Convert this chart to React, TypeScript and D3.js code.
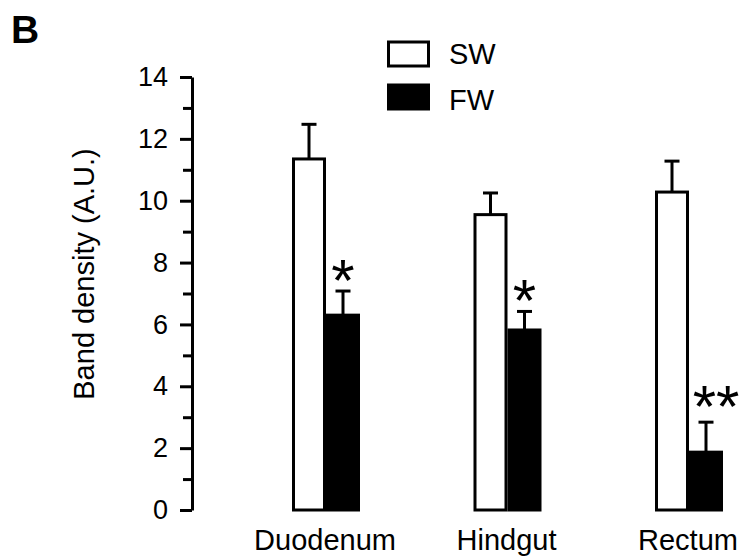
import React, { useEffect, useRef } from "react"
import * as d3 from "d3"

const categories = ["Duodenum", "Hindgut", "Rectum"]
const series = ["SW", "FW"]
const swMeans = [11.35, 9.55, 10.28]
const swErrors = [1.12, 0.7, 1.0]
const fwMeans = [6.3, 5.82, 1.87]
const fwErrors = [0.78, 0.6, 0.97]
const marks = ["*", "*", "**"]
const majorTicks = [0, 2, 4, 6, 8, 10, 12, 14]
const minorTicks = [1, 3, 5, 7, 9, 11, 13]

const font = "'Liberation Sans', Arial, Helvetica, sans-serif"

export default function App() {
    const ref = useRef<SVGSVGElement>(null)

    useEffect(() => {
        const svg = d3.select(ref.current)
        svg.selectAll("*").remove()

        const y = d3.scaleLinear().domain([0, 14]).range([510, 77])
        const x = d3.scalePoint().domain(categories).range([325, 688])
        const sub = d3.scaleBand().domain(series).range([-33, 35])

        const rows = categories.map((c, i) => [
            { cat: c, s: "SW", mean: swMeans[i], err: swErrors[i] },
            { cat: c, s: "FW", mean: fwMeans[i], err: fwErrors[i] },
        ]).flat()

        // error bars first, bars drawn over them
        const eb = svg.append("g").attr("stroke", "black").attr("stroke-width", 3)
        rows.forEach(d => {
            const cx = x(d.cat)! + sub(d.s)! + sub.bandwidth() / 2
            eb.append("line")
                .attr("x1", cx).attr("x2", cx)
                .attr("y1", y(d.mean)).attr("y2", y(d.mean + d.err))
            eb.append("line")
                .attr("x1", cx - 7.5).attr("x2", cx + 7.5)
                .attr("y1", y(d.mean + d.err)).attr("y2", y(d.mean + d.err))
        })

        svg.append("g").selectAll("rect").data(rows).enter().append("rect")
            .attr("x", d => x(d.cat)! + sub(d.s)! + 1.5)
            .attr("y", d => y(d.mean))
            .attr("width", sub.bandwidth() - 3)
            .attr("height", d => y(0) - y(d.mean))
            .attr("fill", d => d.s === "SW" ? "white" : "black")
            .attr("stroke", "black")
            .attr("stroke-width", 3)

        // significance marks
        svg.append("g").selectAll("text").data(categories).enter().append("text")
            .attr("x", (c, i) => x(c)! + sub("FW")! + sub.bandwidth() / 2 + (marks[i].length > 1 ? 10 : 0))
            .attr("y", (c, i) => y(fwMeans[i] + fwErrors[i]) + (marks[i].length > 1 ? 5 : 10))
            .attr("text-anchor", "middle")
            .attr("font-family", font)
            .attr("font-size", 60)
            .text((c, i) => marks[i])

        // y axis
        const yAxis = svg.append("g").attr("transform", "translate(192,0)")
        yAxis.call(d3.axisLeft(y).tickValues(majorTicks).tickSize(12).tickSizeOuter(0).tickPadding(12))
        yAxis.append("g").call(d3.axisLeft(y).tickValues(minorTicks).tickSize(9).tickFormat(() => ""))
            .select(".domain").remove()
        yAxis.selectAll("path, line").attr("stroke", "black").attr("stroke-width", 3)
        yAxis.selectAll("text").attr("font-family", font).attr("font-size", 27).attr("fill", "black")

        // category labels
        svg.append("g").selectAll("text").data(categories).enter().append("text")
            .attr("x", c => x(c)!)
            .attr("y", 550)
            .attr("text-anchor", "middle")
            .attr("font-family", font)
            .attr("font-size", 29)
            .text(c => c)

        svg.append("text")
            .attr("transform", "translate(94,274) rotate(-90)")
            .attr("text-anchor", "middle")
            .attr("font-family", font)
            .attr("font-size", 29)
            .text("Band density (A.U.)")

        // legend
        const legend = svg.append("g")
        series.forEach((s, i) => {
            legend.append("rect")
                .attr("x", 388.5).attr("y", 42 + i * 43)
                .attr("width", 40).attr("height", 24)
                .attr("fill", s === "SW" ? "white" : "black")
                .attr("stroke", "black").attr("stroke-width", 3)
            legend.append("text")
                .attr("x", 449).attr("y", 64 + i * 46)
                .attr("font-family", font).attr("font-size", 29)
                .text(s)
        })

        svg.append("text")
            .attr("x", 11).attr("y", 43)
            .attr("font-family", font).attr("font-size", 39).attr("font-weight", "bold")
            .text("B")
    }, [])

    return (
        <svg ref={ref} width={743} height={559}
            style={{ position: "absolute", left: 0, top: 0, background: "white" }} />
    )
}
